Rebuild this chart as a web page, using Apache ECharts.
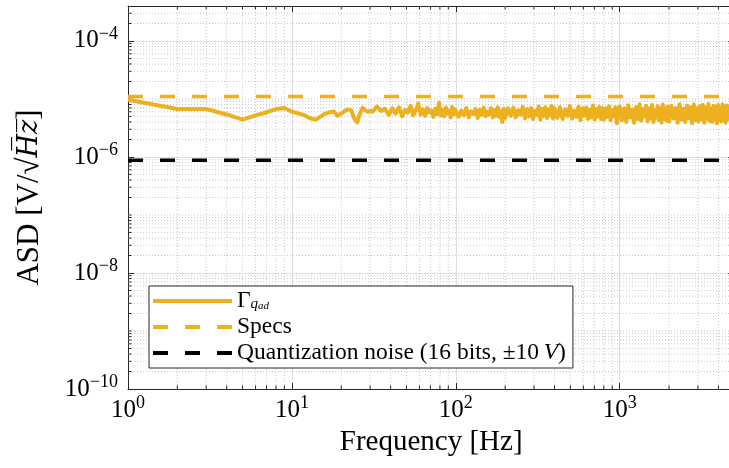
<!DOCTYPE html>
<html><head><meta charset="utf-8">
<script src="https://cdn.jsdelivr.net/npm/echarts@6/dist/echarts.min.js"></script>
<style>html,body{margin:0;padding:0;background:#fff}#c{width:729px;height:468px}</style>
</head><body><div id="c"></div>
<script>
// Frequencies [Hz] of the plotted ASD samples
const freqHz = [
 1,2,3,4,5,6,7,8,9,10,11,12,13,14,15,16,17,18,19,20,21,22,23,24,25,26,27,28,29,30,
 31,33,35,37,39,41,43,45,47,49,51,53,55,57,59,61,63,65,67,69,71,73,75,77,79,81,83,85,87,89,91,93,95,97,99,
 100,104,108,112,116,120,124,128,132,136,140,144,148,152,156,160,164,168,172,176,180,184,188,192,196,
 200,208,216,224,232,240,248,256,264,272,280,288,296,304,312,320,328,336,344,352,360,368,376,384,392,
 400,416,432,448,464,480,496,512,528,544,560,576,592,608,624,640,656,672,688,704,720,736,752,768,784,
 800,820,840,860,880,900,920,940,960,980,
 1000,1032,1064,1096,1128,1160,1192,1224,1256,1288,1320,1352,1384,1416,1448,1480,1512,1544,1576,1608,1640,1672,1704,1736,1768,1800,1832,1864,1896,1928,1960,1992,
 2000,2064,2128,2192,2256,2320,2384,2448,2512,2576,2640,2704,2768,2832,2896,2960,3024,3088,3152,3216,3280,3344,3408,3472,3536,3600,3664,3728,3792,3856,3920,3984,4048,4112,4176,4240,4304,4368,4432,4496,4560,4624,4688
];
// Gamma_qad ASD in microvolt/sqrt(Hz)
const gammaAsd = [
 9.7,6.7,6.7,5.4,4.4,5.2,5.9,6.7,7.0,6.0,5.6,5.2,4.6,4.4,5.0,5.6,5.9,6.1,5.1,5.6,6.2,6.6,6.4,4.6,3.9,5.6,7.0,6.4,6.0,6.2,
 6.0,7.4,6.2,6.8,5.3,6.9,5.6,7.2,5.0,6.5,5.8,7.6,5.2,6.4,8.3,5.4,6.6,5.1,7.0,5.9,6.3,4.9,6.8,5.5,8.6,5.2,6.5,5.0,7.1,5.6,6.2,4.8,7.3,5.4,6.6,
 6.8,4.9,6.3,5.2,7.0,4.8,6.1,5.5,6.7,4.7,6.5,5.3,7.1,5.0,6.0,5.4,6.9,4.8,6.4,5.1,7.2,4.9,6.2,4.0,6.8,
 4.7,6.9,5.1,7.1,4.8,6.4,5.4,7.3,4.6,6.7,5.0,7.0,4.5,6.2,5.3,7.4,4.4,6.8,5.1,7.2,4.7,6.5,5.2,7.6,4.6,
 6.9,4.7,7.2,4.5,6.6,5.1,7.6,4.6,6.3,4.9,7.4,4.3,6.9,5.2,7.1,4.5,6.5,4.8,7.7,4.4,6.7,5.0,7.3,4.5,7.0,
 4.4,6.9,4.9,7.5,4.3,6.4,5.1,7.2,3.8,6.7,
 7.4,4.3,6.9,4.0,7.8,4.8,6.5,3.9,7.2,4.5,8.1,4.2,6.7,5.0,7.6,4.1,6.9,4.6,7.9,4.0,6.4,4.8,7.5,4.3,7.0,3.9,8.0,4.5,6.8,4.2,7.4,4.7,
 4.1,7.6,4.6,7.0,3.9,8.1,4.4,6.8,4.0,7.7,4.7,7.2,3.8,8.0,4.3,6.9,4.1,7.5,4.5,7.9,3.9,7.1,4.6,8.2,4.2,6.8,4.0,7.6,4.4,7.3,3.8,7.9,4.5,7.0,4.1,8.0,4.3,7.4,3.9,7.7,4.6,7.2,4.2
];
const microUnit = 1e-6;
const specsFreq = [1, 5000];
const specsAsd = [1.1e-5, 1.1e-5];
const quantFreq = [1, 5000];
const quantAsd = [8.8e-7, 8.8e-7];

const xMin = 1, xMax = 5000, yMin = 1e-10, yMax = 4e-4;
const xMajorExp = [0, 1, 2, 3];
const yMajorExp = [-10, -8, -6, -4];
const xMinor = [2,3,4,5,6,7,8,9,20,30,40,50,60,70,80,90,200,300,400,500,600,700,800,900,2000,3000,4000];
const yMinorMant = [1,2,3,4,5,6,7,8,9];
const yMinorDecades = [-10,-9,-8,-7,-6,-5,-4];

const yMinor = [];
yMinorDecades.forEach(d => yMinorMant.forEach(m => {
  if (m === 1 && yMajorExp.indexOf(d) >= 0) return;
  const v = m * Math.pow(10, d);
  if (v < yMax * 0.999) yMinor.push(v);
}));

const FONT = 'Liberation Serif';
const YEL = '#EDB120';
const gammaData = freqHz.map((f, i) => [f, gammaAsd[i] * microUnit]);
const specsData = specsFreq.map((f, i) => [f, specsAsd[i]]);
const quantData = quantFreq.map((f, i) => [f, quantAsd[i]]);

function expLabel(majors) {
  return function (v) {
    const e = Math.round(Math.log10(v));
    if (Math.abs(v / Math.pow(10, e) - 1) > 1e-6 || majors.indexOf(e) < 0) return '';
    return '{b|10}{s|' + (e < 0 ? '\u2212' + (-e) : e) + '}';
  };
}
const labelRich = {
  b: {fontSize: 25, fontFamily: FONT, color: '#000', lineHeight: 32},
  s: {fontSize: 18, fontFamily: FONT, color: '#000', lineHeight: 18, verticalAlign: 'top'}
};
const TICK = '#262626';
const minorGrid = {stroke: '#c8c8c8', lineWidth: 1, lineDash: [1, 2]};
const tickStyle = {stroke: TICK, lineWidth: 1};
const dashIcon = 'path://M0,0h15v4h-15zM32,0h15v4h-15zM64,0h15v4h-15z';
const solidIcon = 'path://M0,0h79v4h-79z';
const iconStyle = c => ({color: c, opacity: 1, borderWidth: 0});

const chart = echarts.init(document.getElementById('c'), null, {renderer: 'canvas'});
chart.setOption({
  animation: false,
  backgroundColor: '#fff',
  grid: {left: 128, top: 6, bottom: 79, right: -5.3, outerBoundsMode: 'none', containLabel: false},
  xAxis: [{
    type: 'log', logBase: 10, min: xMin, max: xMax, interval: 1,
    name: 'Frequency [Hz]', nameLocation: 'middle', nameGap: 32,
    nameTextStyle: {fontFamily: FONT, fontSize: 29, color: '#000'},
    axisLine: {show: true, lineStyle: {color: TICK, width: 1}},
    axisTick: {show: true, inside: true, length: 6, lineStyle: {color: TICK}},
    axisLabel: {margin: 5, formatter: expLabel(xMajorExp), rich: labelRich},
    splitLine: {show: true, lineStyle: {color: '#dedede', width: 1}},
    minorTick: {show: false}, minorSplitLine: {show: false}
  }, {
    type: 'log', logBase: 10, min: xMin, max: xMax, interval: 1, position: 'top',
    axisLine: {show: true, lineStyle: {color: TICK, width: 1}},
    axisTick: {show: true, inside: true, length: 6, lineStyle: {color: TICK}},
    axisLabel: {show: false}, splitLine: {show: false}
  }],
  yAxis: [{
    type: 'log', logBase: 10, min: yMin, max: yMax, interval: 2,
    name: '{n|ASD [V/\u221A}{i|H\u0305z\u0305}{n|]}', nameLocation: 'middle', nameGap: 83,
    nameTextStyle: {fontFamily: FONT, fontSize: 31, color: '#000', rich: {
      n: {fontFamily: FONT, fontSize: 31, color: '#000'},
      i: {fontFamily: 'DejaVu Serif', fontStyle: 'italic', fontSize: 27, color: '#000'}
    }},
    axisLine: {show: true, lineStyle: {color: TICK, width: 1}},
    axisTick: {show: true, inside: true, length: 6, lineStyle: {color: TICK}},
    axisLabel: {margin: 10, formatter: expLabel(yMajorExp), rich: labelRich},
    splitLine: {show: true, lineStyle: {color: '#dedede', width: 1}}
  }, {
    type: 'log', logBase: 10, min: yMin, max: yMax, interval: 2, position: 'right',
    axisLine: {show: true, lineStyle: {color: TICK, width: 1}},
    axisTick: {show: true, inside: true, length: 6, lineStyle: {color: TICK}},
    axisLabel: {show: false}, splitLine: {show: false}
  }],
  legend: {
    orient: 'vertical', left: 149, top: 286,
    padding: [3, 7, 3, 4], itemGap: 2, itemWidth: 79, itemHeight: 4,
    backgroundColor: '#fff', borderColor: TICK, borderWidth: 1, borderRadius: 0,
    selectedMode: false, inactiveColor: '#000',
    itemStyle: {opacity: 1, borderWidth: 0},
    lineStyle: {width: 0, opacity: 0},
    textStyle: {fontFamily: FONT, fontSize: 23.5, color: '#000', lineHeight: 22, rich: {
      g: {fontFamily: FONT, fontSize: 23.5, color: '#000', lineHeight: 22},
      q: {fontFamily: FONT, fontStyle: 'italic', fontSize: 15, color: '#000', lineHeight: 12, verticalAlign: 'bottom'},
      a: {fontFamily: FONT, fontStyle: 'italic', fontSize: 11, color: '#000', lineHeight: 8, verticalAlign: 'bottom'},
      v: {fontFamily: FONT, fontStyle: 'italic', fontSize: 23.5, color: '#000', lineHeight: 22}
    }},
    formatter: function (name) {
      if (name === 'Gamma_qad') return '{g|\u0393}{q|q}{a|ad}';
      if (name === 'Quant') return 'Quantization noise (16 bits, \u00B110\u2009{v|V})';
      return name;
    },
    data: [
      {name: 'Gamma_qad', icon: solidIcon, itemStyle: iconStyle(YEL)},
      {name: 'Specs', icon: dashIcon, itemStyle: iconStyle(YEL)},
      {name: 'Quant', icon: dashIcon, itemStyle: iconStyle('#000')}
    ]
  },
  series: [{
    type: 'custom', coordinateSystem: 'cartesian2d', xAxisIndex: 0, yAxisIndex: 0, z: 1, silent: true,
    data: xMinor.map(v => [v, 1e-6]),
    renderItem: function (params, api) {
      const cs = params.coordSys;
      const x = api.coord([api.value(0), 1e-6])[0];
      const b = cs.y + cs.height;
      return {type: 'group', children: [
        {type: 'line', shape: {x1: x, y1: cs.y, x2: x, y2: b}, style: minorGrid},
        {type: 'line', shape: {x1: x, y1: b, x2: x, y2: b - 3.5}, style: tickStyle},
        {type: 'line', shape: {x1: x, y1: cs.y, x2: x, y2: cs.y + 3.5}, style: tickStyle}
      ]};
    }
  }, {
    type: 'custom', coordinateSystem: 'cartesian2d', xAxisIndex: 0, yAxisIndex: 0, z: 1, silent: true,
    data: yMinor.map(v => [10, v]),
    renderItem: function (params, api) {
      const cs = params.coordSys;
      const y = api.coord([10, api.value(1)])[1];
      const r = cs.x + cs.width;
      return {type: 'group', children: [
        {type: 'line', shape: {x1: cs.x, y1: y, x2: r, y2: y}, style: minorGrid},
        {type: 'line', shape: {x1: cs.x, y1: y, x2: cs.x + 3.5, y2: y}, style: tickStyle},
        {type: 'line', shape: {x1: r, y1: y, x2: r - 3.5, y2: y}, style: tickStyle}
      ]};
    }
  }, {
    name: 'Gamma_qad', type: 'line', data: gammaData, symbol: 'none', z: 3,
    lineStyle: {color: YEL, width: 4, join: 'round'}, itemStyle: {color: YEL}
  }, {
    name: 'Specs', type: 'line', data: specsData, symbol: 'none', z: 4,
    lineStyle: {color: YEL, width: 3.5, type: [15, 17], cap: 'butt'}, itemStyle: {color: YEL}
  }, {
    name: 'Quant', type: 'line', data: quantData, symbol: 'none', z: 4,
    lineStyle: {color: '#000', width: 3.5, type: [15, 17], cap: 'butt'}, itemStyle: {color: '#000'}
  }]
});
</script></body></html>
